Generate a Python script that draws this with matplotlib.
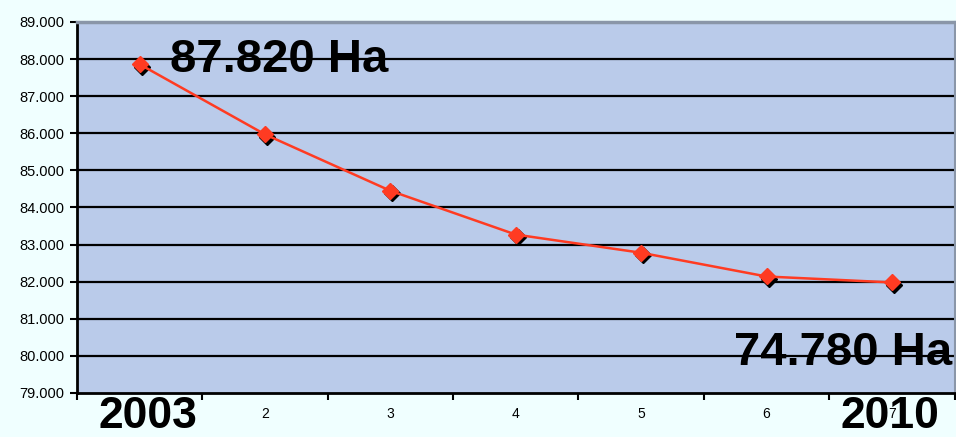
import matplotlib
matplotlib.use("Agg")
import matplotlib.pyplot as plt
import matplotlib.transforms as mtransforms
from matplotlib.ticker import FuncFormatter

categories = ["", "2", "3", "4", "5", "6", "7"]
values = [87860, 85970, 84450, 83270, 82780, 82140, 81980]
y_ticks = [79000, 80000, 81000, 82000, 83000, 84000, 85000, 86000, 87000, 88000, 89000]
start_label = "87.820 Ha"
end_label = "74.780 Ha"
start_year = "2003"
end_year = "2010"

plt.rcParams['font.family'] = ['Liberation Sans', 'DejaVu Sans']

fig = plt.figure(figsize=(9.56, 4.37), dpi=100)
fig.patch.set_facecolor("#f0ffff")
ax = fig.add_axes([0.0805, 0.1007, 0.918, 0.849])
ax.set_facecolor("#bacbea")

x = list(range(len(values)))
ax.set_xlim(-0.5, len(values) - 0.5)
ax.set_ylim(y_ticks[0], y_ticks[-1])

ax.set_yticks(y_ticks)
ax.yaxis.set_major_formatter(FuncFormatter(lambda v, p: f"{int(v):,}".replace(",", ".")))
for yt in y_ticks[1:-1]:
    ax.axhline(yt, color="black", lw=1.6, zorder=1)

ax.set_xticks(x)
ax.set_xticklabels(categories, fontsize=10)
ax.set_xticks([i - 0.5 for i in range(len(values) + 1)], minor=True)
ax.tick_params(axis="x", which="major", length=0, pad=10)
ax.tick_params(axis="x", which="minor", length=5, width=1.5, direction="out", color="black")
ax.tick_params(axis="y", length=5, width=1.5, direction="out", labelsize=10.5, pad=4)

for s in ["left", "bottom"]:
    ax.spines[s].set_color("black")
    ax.spines[s].set_linewidth(2)
ax.spines["top"].set_color("#8a96a8")
ax.spines["top"].set_linewidth(2.5)
ax.spines["right"].set_color("#8a96a8")
ax.spines["right"].set_linewidth(1.5)

shadow = mtransforms.offset_copy(ax.transData, fig=fig, x=2, y=-2.5, units="dots")
ax.plot(x, values, linestyle="none", marker="D", markersize=8.5, color="black",
        transform=shadow, zorder=3)
ax.plot(x, values, color="#ff3b22", lw=1.8, marker="D", markersize=8.5,
        markerfacecolor="#ff3b22", markeredgecolor="#ff3b22", zorder=4)

ax.text(0.24, 88000 - 30, start_label, fontsize=34, fontweight="bold",
        ha="left", va="center", zorder=5)
ax.text(6.48, 80000 + 90, end_label, fontsize=34, fontweight="bold",
        ha="right", va="center", zorder=5)

fig.text(148 / 956, 1 - 417 / 437, start_year, fontsize=32, fontweight="bold",
         ha="center", va="center")
fig.text(890 / 956, 1 - 417 / 437, end_year, fontsize=32, fontweight="bold",
         ha="center", va="center")

fig.savefig("out.png", dpi=100, facecolor=fig.get_facecolor())
